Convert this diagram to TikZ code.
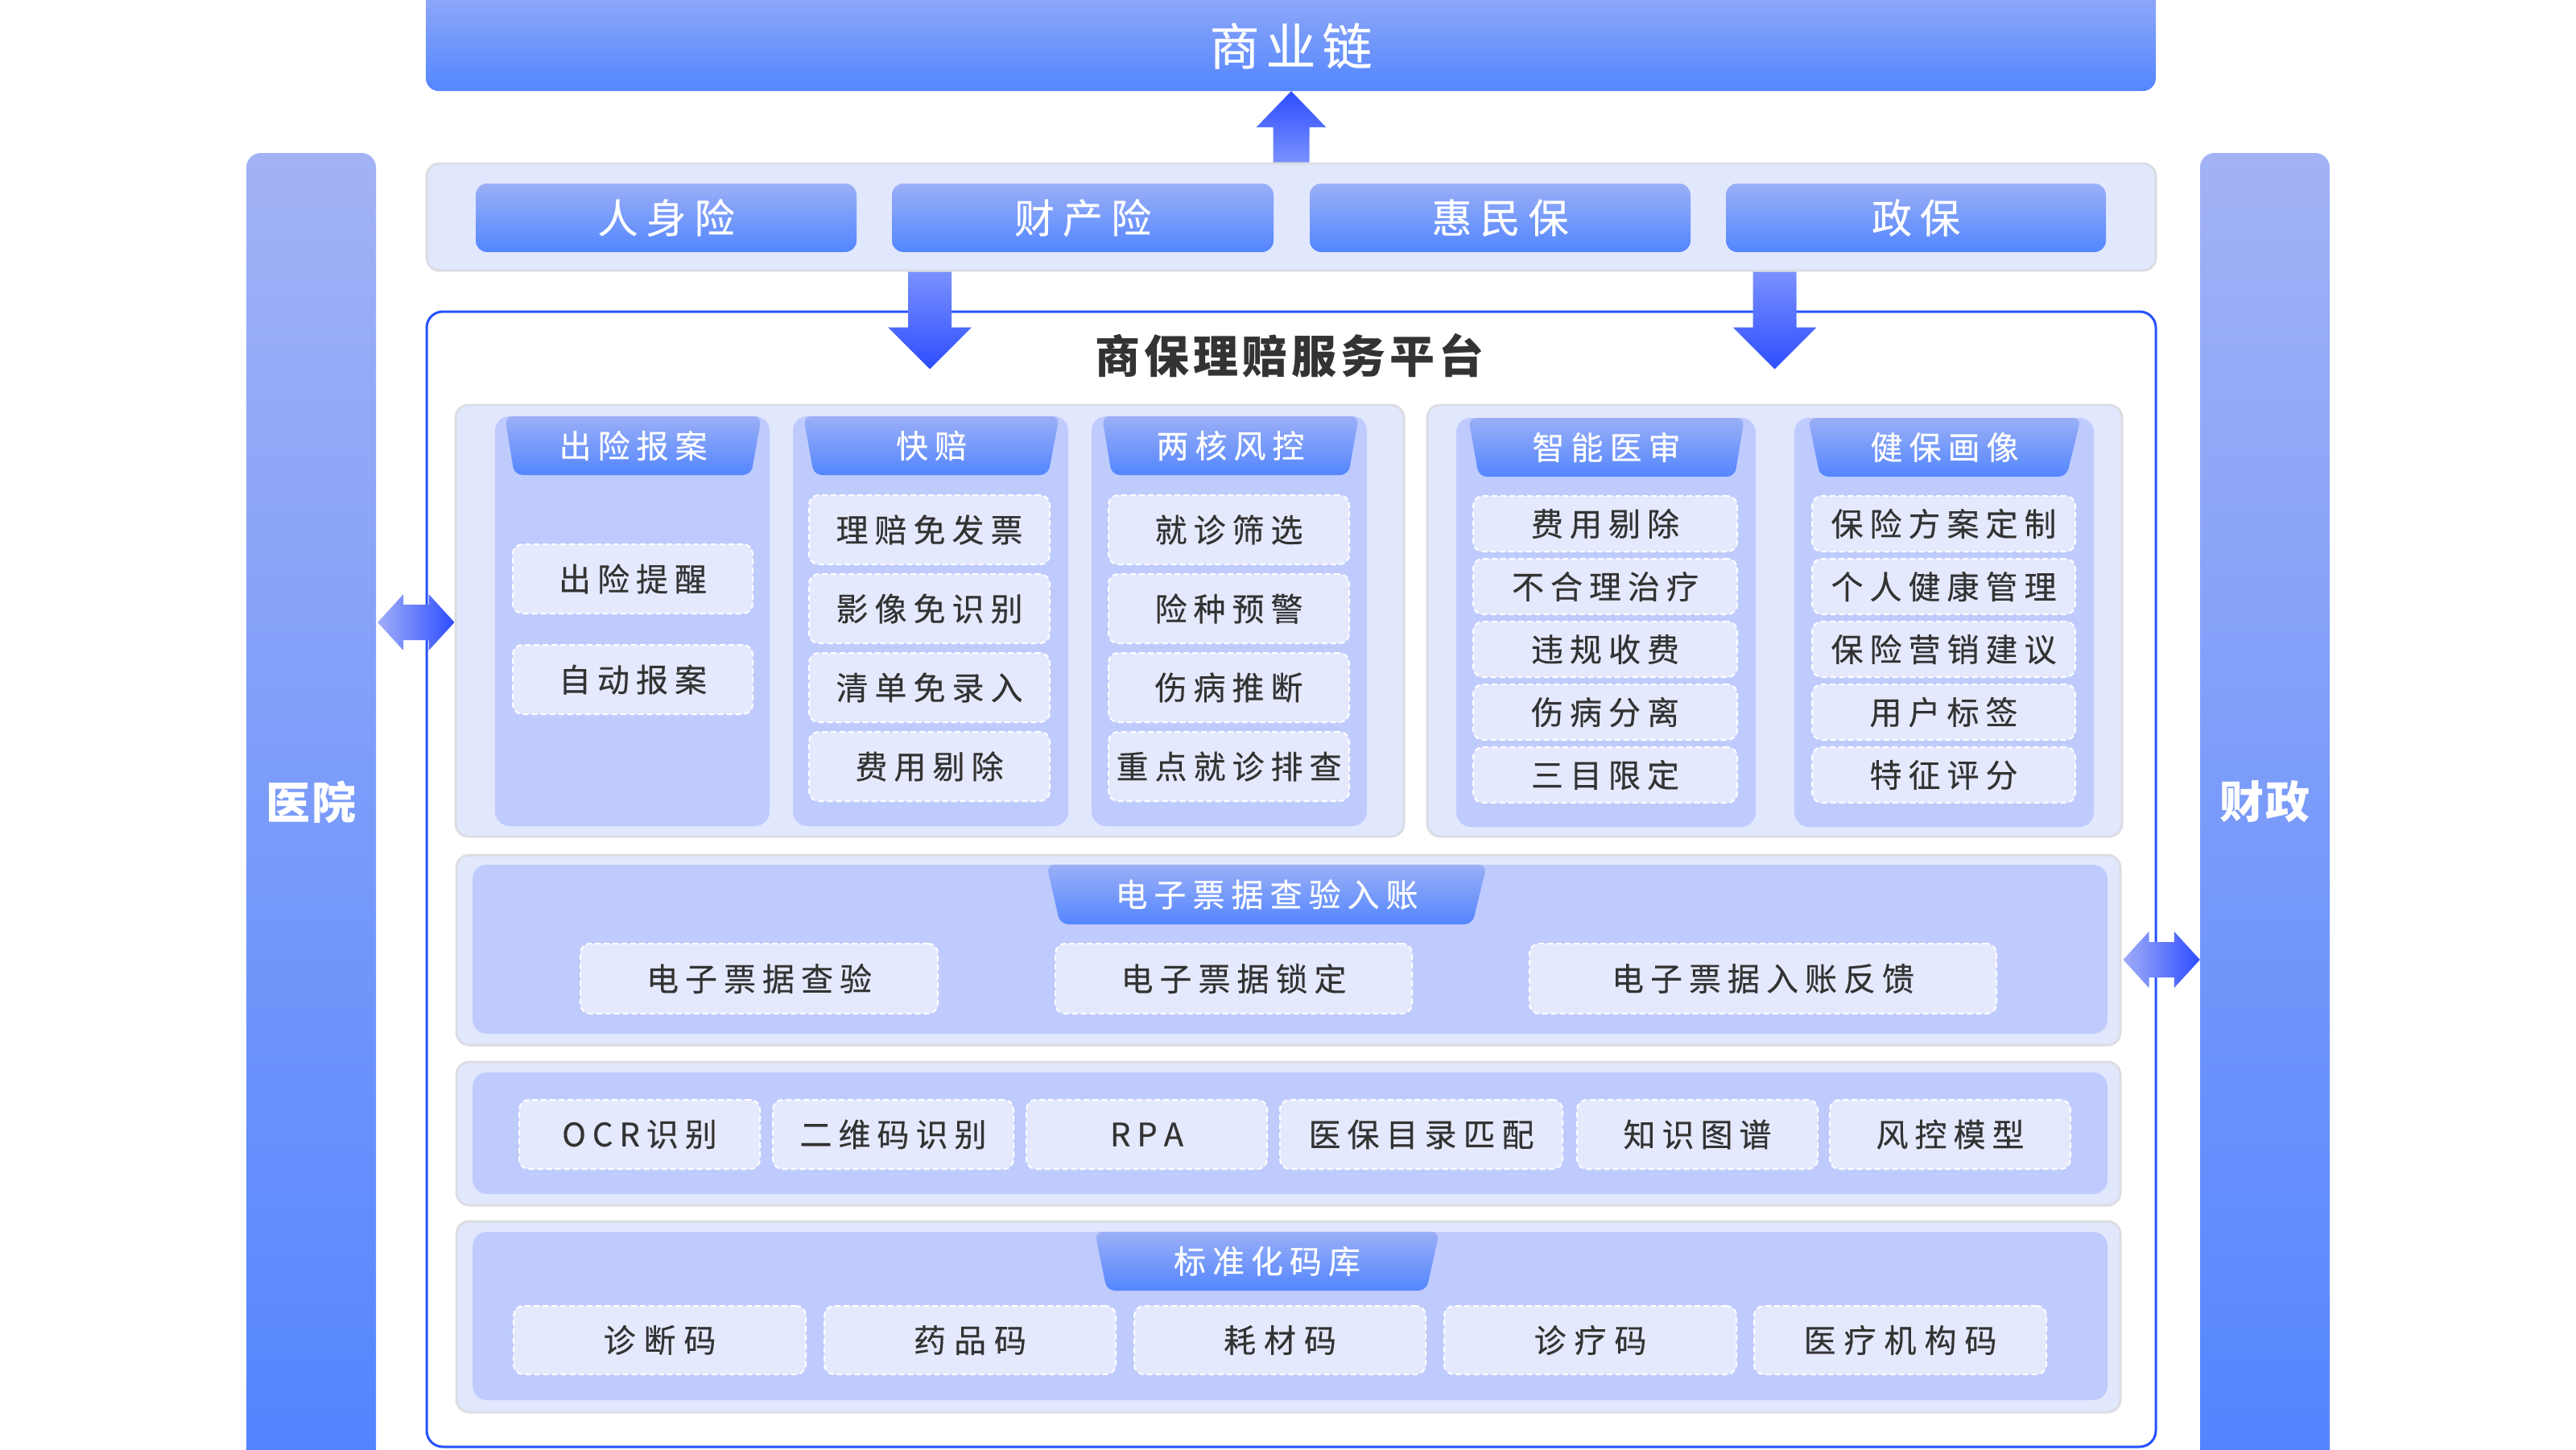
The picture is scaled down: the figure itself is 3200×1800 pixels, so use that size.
\documentclass[tikz,border=0pt]{standalone}
\usepackage{fontspec}
\setmainfont{Noto Sans CJK SC}
\newfontfamily\medfont[FakeBold=0.35]{Noto Sans CJK SC}
\usetikzlibrary{fit,calc}
\definecolor{gTop}{HTML}{9BAFF6}
\definecolor{gBot}{HTML}{5386FF}
\definecolor{sTop}{HTML}{A2B2F5}
\definecolor{sBot}{HTML}{5284FF}
\definecolor{panelFill}{HTML}{E1E7FD}
\definecolor{panelLine}{HTML}{DCDDE3}
\definecolor{colFill}{HTML}{BFCBFD}
\definecolor{itemFill}{HTML}{E4E9FD}
\definecolor{platLine}{HTML}{2552FF}
\definecolor{txt}{HTML}{333333}
\definecolor{arrDeep}{HTML}{2E4DFF}
\definecolor{arrLight}{HTML}{7A91FF}
\definecolor{arrPale}{HTML}{A0AEF8}
\makeatletter
\newif\ifsp@first
\newcommand\spaced[2]{\sp@firsttrue\@tfor\sp@c:=#2\do{\ifsp@first\sp@firstfalse\else\hspace*{#1}\fi\sp@c}}
\makeatother
\tikzset{
  gbox/.style={top color=gTop, bottom color=gBot, draw=none, rounded corners=14pt, inner sep=0pt},
  sidebar/.style={top color=sTop, bottom color=sBot, draw=none, rounded corners=18pt, inner sep=0pt},
  panelbox/.style={fill=panelFill, draw=panelLine, line width=3pt, rounded corners=16pt, inner sep=0pt},
  colbox/.style={fill=colFill, draw=none, rounded corners=18pt, inner sep=0pt},
  itembox/.style={fill=itemFill, draw=white, line width=2pt, dash pattern=on 7pt off 4pt, rounded corners=12pt, inner sep=0pt},
  itemtext/.style={text=txt, inner sep=0pt, font=\medfont\fontsize{40pt}{44pt}\selectfont},
  platbox/.style={fill=white, draw=platLine, line width=3pt, rounded corners=20pt, inner sep=0pt},
  hdrshade/.style={top color=gTop, bottom color=gBot, rounded corners=10pt},
  hdrtext/.style={text=white, inner sep=0pt, font=\medfont\fontsize{40pt}{44pt}\selectfont},
  btntext/.style={text=white, inner sep=0pt, font=\medfont\fontsize{50pt}{56pt}\selectfont},
}
\newcommand\itm[6]{\node[itembox, fit={(#2,#3) (#4,#5)}] (#1) {};
  \node[itemtext] (#1t) at (#1.center) {\spaced{8pt}{#6}};}
\newcommand\itmw[6]{\node[itembox, fit={(#2,#3) (#4,#5)}] (#1) {};
  \node[itemtext] (#1t) at (#1.center) {\spaced{10pt}{#6}};}
\newcommand\hdr[8]{%
  \path[hdrshade] (#2,#4) -- (#3,#4) -- (#6,#7) -- (#5,#7) -- cycle;
  \node[hdrtext] (#1) at ({(#2+#3)/2},{(#4+#7)/2}) {\spaced{8pt}{#8}};}
\begin{document}
\begin{tikzpicture}[x=1pt,y=-1pt]
\useasboundingbox (0,0) rectangle (3200,1800);
\fill[white] (0,0) rectangle (3200,1800);
% side bars
\node[sidebar, fit={(306,190) (467,1840)}] (hosp) {};
\node[text=white, inner sep=0pt, font=\fontsize{55pt}{60pt}\selectfont\bfseries] (hospt) at (386.5,996) {\spaced{2pt}{医院}};
\node[sidebar, fit={(2733,190) (2894,1840)}] (fin) {};
\node[text=white, inner sep=0pt, font=\fontsize{55pt}{60pt}\selectfont\bfseries] (fint) at (2813.5,996) {\spaced{2pt}{财政}};
% top bar
\node[gbox, rounded corners=16pt, fit={(529,-30) (2678,113)}] (chain) {};
\node[text=white, inner sep=0pt, font=\medfont\fontsize{62pt}{66pt}\selectfont] (chaint) at (1603.5,57) {\spaced{8pt}{商业链}};
% insurance band
\node[panelbox, fit={(530,203) (2678,336)}] (band) {};
\node[gbox, fit={(591,228) (1064,313)}] (ins1) {};
\node[btntext] (ins1t) at (ins1) {\spaced{10pt}{人身险}};
\node[gbox, fit={(1108,228) (1582,313)}] (ins2) {};
\node[btntext] (ins2t) at (ins2) {\spaced{10pt}{财产险}};
\node[gbox, fit={(1627,228) (2100,313)}] (ins3) {};
\node[btntext] (ins3t) at (ins3) {\spaced{10pt}{惠民保}};
\node[gbox, fit={(2144,228) (2616,313)}] (ins4) {};
\node[btntext] (ins4t) at (ins4) {\spaced{10pt}{政保}};
% platform
\node[platbox, fit={(530,387) (2678,1797)}] (plat) {};
\node[text=txt, inner sep=0pt, font=\fontsize{56pt}{60pt}\selectfont\bfseries] (title) at (1602,442) {\spaced{5pt}{商保理赔服务平台}};
% upper-left panel
\node[panelbox, fit={(566,503) (1744,1039)}] (pUL) {};
\node[colbox, fit={(615,517) (956,1026)}] (c1) {};
\node[colbox, fit={(985,517) (1327,1026)}] (c2) {};
\node[colbox, fit={(1356,517) (1698,1026)}] (c3) {};
\hdr{h1}{627}{946}{517}{639}{933}{590}{出险报案}
\hdr{h2}{998}{1316}{517}{1011}{1302}{590}{快赔}
\hdr{h3}{1369}{1688}{517}{1381}{1675}{590}{两核风控}
\itm{a1}{637}{676}{935}{762}{出险提醒}
\itm{a2}{637}{801}{935}{887}{自动报案}
\itm{b1}{1005}{615}{1304}{701}{理赔免发票}
\itm{b2}{1005}{713}{1304}{799}{影像免识别}
\itm{b3}{1005}{811}{1304}{897}{清单免录入}
\itm{b4}{1005}{909}{1304}{995}{费用剔除}
\itm{r1}{1377}{615}{1676}{701}{就诊筛选}
\itm{r2}{1377}{713}{1676}{799}{险种预警}
\itm{r3}{1377}{811}{1676}{897}{伤病推断}
\itm{r4}{1377}{909}{1676}{995}{重点就诊排查}
% upper-right panel
\node[panelbox, fit={(1773,503) (2636,1039)}] (pUR) {};
\node[colbox, fit={(1809,519) (2181,1027)}] (c4) {};
\node[colbox, fit={(2229,519) (2601,1027)}] (c5) {};
\hdr{h4}{1824}{2167}{519}{1837}{2155}{592}{智能医审}
\hdr{h5}{2246}{2585}{519}{2261}{2567}{592}{健保画像}
\itm{m1}{1830}{616}{2158}{685}{费用剔除}
\itm{m2}{1830}{694}{2158}{763}{不合理治疗}
\itm{m3}{1830}{772}{2158}{841}{违规收费}
\itm{m4}{1830}{850}{2158}{919}{伤病分离}
\itm{m5}{1830}{928}{2158}{997}{三目限定}
\itm{p1}{2251}{616}{2578}{685}{保险方案定制}
\itm{p2}{2251}{694}{2578}{763}{个人健康管理}
\itm{p3}{2251}{772}{2578}{841}{保险营销建议}
\itm{p4}{2251}{850}{2578}{919}{用户标签}
\itm{p5}{2251}{928}{2578}{997}{特征评分}
% e-invoice panel
\node[panelbox, fit={(567,1062) (2634,1298)}] (p2) {};
\node[colbox, fit={(587,1074) (2618,1284)}] (p2i) {};
\hdr{h6}{1300}{1847}{1074}{1317}{1829}{1148}{电子票据查验入账}
\itm{e1}{721}{1172}{1165}{1259}{电子票据查验}
\itm{e2}{1311}{1172}{1754}{1259}{电子票据锁定}
\itm{e3}{1900}{1172}{2480}{1259}{电子票据入账反馈}
% tech panel
\node[panelbox, fit={(567,1319) (2634,1497)}] (p3) {};
\node[colbox, fit={(587,1332) (2618,1483)}] (p3i) {};
\itm{t1}{645}{1366}{944}{1452}{OCR识别}
\itm{t2}{960}{1366}{1259}{1452}{二维码识别}
\itm{t3}{1275}{1366}{1574}{1452}{RPA}
\itm{t4}{1590}{1366}{1941}{1452}{医保目录匹配}
\itm{t5}{1959}{1366}{2258}{1452}{知识图谱}
\itm{t6}{2273}{1366}{2572}{1452}{风控模型}
% code panel
\node[panelbox, fit={(567,1517) (2634,1754)}] (p4) {};
\node[colbox, fit={(587,1530) (2618,1739)}] (p4i) {};
\hdr{h7}{1360}{1788}{1530}{1375}{1772}{1603}{标准化码库}
\itmw{k1}{638}{1622}{1001}{1707}{诊断码}
\itmw{k2}{1024}{1622}{1386}{1707}{药品码}
\itmw{k3}{1409}{1622}{1771}{1707}{耗材码}
\itmw{k4}{1794}{1622}{2157}{1707}{诊疗码}
\itmw{k5}{2179}{1622}{2542}{1707}{医疗机构码}
% arrows
\coordinate (ut) at (band.north |- chain.south);
\shade[top color=arrDeep, bottom color=arrLight]
  ($(band.north)+(-22.5,0)$) -- ($(ut)+(-22.5,45)$) -- ($(ut)+(-43.5,45)$) -- (ut)
  -- ($(ut)+(43.5,45)$) -- ($(ut)+(22.5,45)$) -- ($(band.north)+(22.5,0)$) -- cycle;
\coordinate (d1s) at (pUL.north |- band.south);
\coordinate (d1t) at ($(pUL.north)+(0,-43)$);
\shade[top color=arrLight, bottom color=arrDeep]
  ($(d1s)+(-27,0)$) -- ($(d1t)+(-27,-52)$) -- ($(d1t)+(-52,-52)$) -- (d1t)
  -- ($(d1t)+(52,-52)$) -- ($(d1t)+(27,-52)$) -- ($(d1s)+(27,0)$) -- cycle;
\coordinate (d2s) at (pUR.north |- band.south);
\coordinate (d2t) at ($(pUR.north)+(0,-43)$);
\shade[top color=arrLight, bottom color=arrDeep]
  ($(d2s)+(-27,0)$) -- ($(d2t)+(-27,-52)$) -- ($(d2t)+(-52,-52)$) -- (d2t)
  -- ($(d2t)+(52,-52)$) -- ($(d2t)+(27,-52)$) -- ($(d2s)+(27,0)$) -- cycle;
\coordinate (la) at ($(hosp.east |- pUL.west)+(2,2)$);
\coordinate (lb) at ($(pUL.west)+(0,2)$);
\shade[left color=arrPale, right color=arrDeep]
  (la) -- ($(la)+(32,-35)$) -- ($(la)+(32,-22)$) -- ($(lb)+(-32,-22)$) -- ($(lb)+(-32,-35)$) -- (lb)
  -- ($(lb)+(-32,35)$) -- ($(lb)+(-32,22)$) -- ($(la)+(32,22)$) -- ($(la)+(32,35)$) -- cycle;
\coordinate (ra) at ($(p2.east)+(2,12)$);
\coordinate (rb) at (fin.west |- ra);
\shade[left color=arrPale, right color=arrDeep]
  (ra) -- ($(ra)+(32,-35)$) -- ($(ra)+(32,-22)$) -- ($(rb)+(-32,-22)$) -- ($(rb)+(-32,-35)$) -- (rb)
  -- ($(rb)+(-32,35)$) -- ($(rb)+(-32,22)$) -- ($(ra)+(32,22)$) -- ($(ra)+(32,35)$) -- cycle;
\end{tikzpicture}
\end{document}
